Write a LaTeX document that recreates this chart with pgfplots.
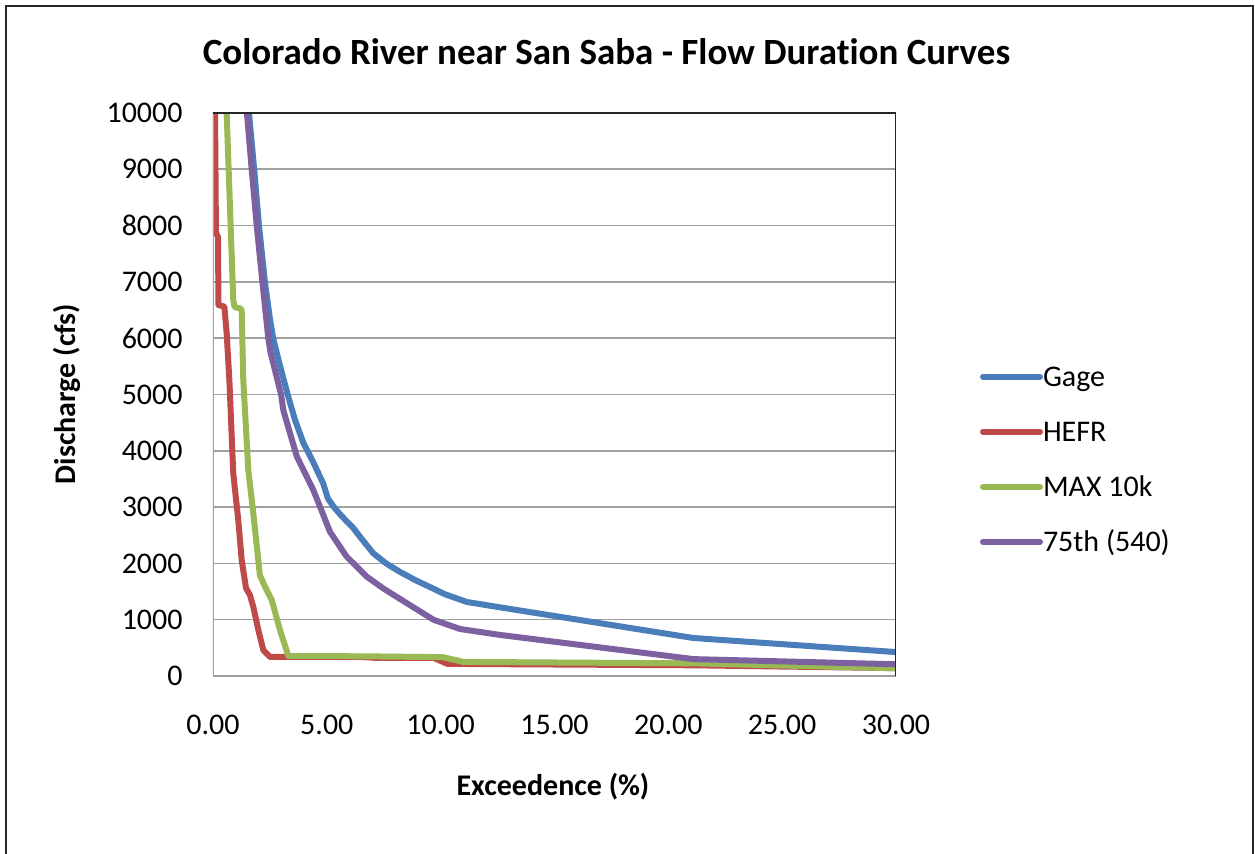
\documentclass[border=0pt]{standalone}
\usepackage{pgfplots}
\pgfplotsset{compat=1.18}
\usepackage{fontspec}
\setmainfont{Carlito}[Ligatures=NoCommon]
\definecolor{cblue}{HTML}{4A7EBB}
\definecolor{cred}{HTML}{BE4B48}
\definecolor{cgreen}{HTML}{98B954}
\definecolor{cpurple}{HTML}{7D60A0}
\definecolor{cgrid}{HTML}{A0A0A0}
\begin{document}
\begin{tikzpicture}
\useasboundingbox (0pt,0pt) rectangle (627.5pt,426.5pt);
\draw[line width=1.2pt,draw=black!85] (3pt,-5pt) -- (3pt,423.5pt) -- (626.5pt,423.5pt) -- (626.5pt,-5pt);
\begin{axis}[
  at={(106.5pt,88.5pt)}, anchor=south west,
  scale only axis, width=341.5pt, height=281.5pt,
  xmin=0, xmax=30, ymin=0, ymax=10000,
  xtick={0,5,...,30}, ytick={0,1000,...,10000},
  major tick length=0pt,
  ymajorgrids, grid style={draw=cgrid, line width=0.8pt},
  axis line style={draw=none},
  /pgf/number format/assume math mode=true,
  ticklabel style={font=\fontsize{15}{18}\selectfont},
  x tick label style={/pgf/number format/.cd, fixed, fixed zerofill, precision=2, /tikz/.cd, anchor=base, yshift=-29.5pt},
  y tick label style={/pgf/number format/.cd, set thousands separator={}, /tikz/.cd, anchor=east, inner sep=0pt, xshift=-15pt},
  scaled ticks=false,
  every axis title shift=0pt,
  title={Colorado River near San Saba - Flow Duration Curves},
  title style={font=\fontsize{18.5}{22}\selectfont\bfseries, at={(axis description cs:0.5761,1.0853)}, anchor=base, inner sep=0pt},
  xlabel={Exceedence (\%)},
  xlabel style={font=\fontsize{15}{18}\selectfont\bfseries, at={(axis description cs:0.4978,-0.2114)}, anchor=base, inner sep=0pt},
  ylabel={Discharge (cfs)},
  ylabel style={font=\fontsize{15}{18}\selectfont\bfseries, at={(axis description cs:-0.2020,0.5009)}, anchor=base, inner sep=0pt},
  legend style={draw=none, fill=none, inner sep=0pt, outer sep=0pt,
    at={(1.1230,0.3797)}, anchor=west, row sep=13.5pt,
    font=\fontsize{15}{18}\selectfont,
    nodes={inner sep=0pt, text height=10.5pt, text depth=3.5pt},
    /tikz/every even column/.append style={column sep=4pt}},
  legend cell align=left,
  legend image code/.code={\draw[#1, line width=3pt, line cap=round] (0pt,1.5pt) -- (28.5pt,1.5pt);},
  every axis plot/.append style={line width=3pt, line join=round, line cap=round},
  clip=true,
]
% Gage
\addplot[cblue] coordinates {
(1.58,10000) (1.81,9000) (2.02,8000) (2.28,7000) (2.5,6350) (2.64,6000)
(2.95,5500) (3.28,5000) (3.6,4550) (3.97,4140) (4.4,3800) (4.84,3420) (5.05,3150)
(5.35,2980) (5.7,2820) (6.16,2630) (6.5,2450) (7.04,2180) (7.6,2000)
(8.21,1850) (8.9,1700) (9.53,1580) (10.2,1450) (11.15,1315) (12.6,1220)
(21.1,675) (30,425)};
\addlegendentry{Gage}
% HEFR
\addplot[cred] coordinates {
(0.09,10000) (0.13,7870) (0.22,7800) (0.24,6590) (0.5,6560) (0.6,6090)
(0.72,5250) (0.89,3600) (1.11,2770) (1.26,2060) (1.45,1560) (1.62,1440)
(1.77,1230) (1.99,820) (2.21,460) (2.5,340) (6.5,340) (7.2,320) (9.7,320)
(10.3,215) (21.1,190) (30,140)};
\addlegendentry{HEFR}
% MAX 10k
\addplot[cgreen] coordinates {
(0.6,10000) (0.89,6680) (0.95,6550) (1.19,6530) (1.26,6500) (1.33,5260)
(1.55,3660) (1.77,2890) (2.06,1790) (2.28,1590) (2.58,1350) (2.94,820)
(3.31,355) (6.5,350) (10.1,335) (11.0,250) (21.1,225) (30,137)};
\addlegendentry{MAX 10k}
% 75th (540)
\addplot[cpurple] coordinates {
(1.49,10000) (1.70,9000) (1.92,8000) (2.17,7000) (2.43,6000) (2.52,5760)
(2.99,5000) (3.09,4720) (3.68,3900) (4.41,3300) (5.14,2560) (5.87,2120) (6.75,1765)
(7.5,1550) (8.21,1370) (9.68,1000) (10.85,835) (12.6,730) (21.1,300) (30,208)};
\addlegendentry{75th (540)}
\draw[cgrid, line width=1pt] (axis cs:0,10000) -- (axis cs:0,0) -- (axis cs:30,0);
\draw[black!85, line width=1pt] (axis cs:0,10000) -- (axis cs:30,10000) -- (axis cs:30,0);
\end{axis}
\end{tikzpicture}
\end{document}
